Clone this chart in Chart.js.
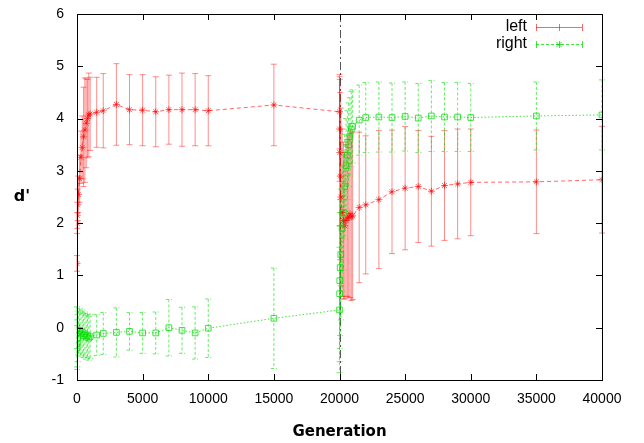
<!DOCTYPE html>
<html>
<head>
<meta charset="utf-8">
<script src="https://cdn.jsdelivr.net/npm/chart.js@4"></script>
<style>
  html, body { margin: 0; padding: 0; background: #fff; }
  #wrap { width: 644px; height: 443px; }
</style>
</head>
<body>
<div id="wrap"><canvas id="chart" width="644" height="443"></canvas></div>
<script>
// generations sampled (same for both series)
const generations = [
  0, 10, 20, 50, 100, 200, 300, 400, 500, 600, 700, 800, 900, 1000,
  1500, 2000, 3000, 4000, 5000, 6000, 7000, 8000, 9000, 10000, 15000,
  20000, 20010, 20020, 20050, 20100, 20200, 20300, 20400, 20500, 20600, 20700, 20800, 20900, 21000,
  21500, 22000, 23000, 24000, 25000, 26000, 27000, 28000, 29000, 30000, 35000, 40000
];
const leftMean = [
  1.23, 2.0, 2.15, 2.35, 2.55, 2.85, 3.26, 3.45, 3.65, 3.78, 3.91, 4.0, 4.07, 4.09,
  4.12, 4.15, 4.27, 4.17, 4.16, 4.13, 4.17, 4.17, 4.17, 4.15, 4.26,
  4.13, 3.8, 3.35, 2.9, 2.5, 2.2, 2.05, 1.95, 2.05, 2.1, 2.12, 2.18, 2.12, 2.14,
  2.3, 2.35, 2.45, 2.6, 2.67, 2.7, 2.61, 2.72, 2.75, 2.78, 2.79, 2.83
];
const leftErr = [
  0.15, 0.2, 0.25, 0.3, 0.35, 0.45, 0.5, 0.6, 0.95, 1.0, 0.85, 0.75, 0.8, 0.7,
  0.67, 0.71, 0.78, 0.67, 0.68, 0.67, 0.66, 0.7, 0.69, 0.67, 0.78,
  0.71, 1.0, 1.4, 1.6, 1.7, 1.6, 1.5, 1.4, 1.45, 1.5, 1.55, 1.6, 1.6, 1.6,
  1.44, 1.32, 1.32, 1.18, 1.18, 1.07, 1.05, 1.05, 1.05, 1.02, 0.99, 1.02
];
const rightMean = [
  0.0, -0.38, -0.3, -0.2, -0.1, -0.05, -0.12, -0.08, -0.15, -0.12, -0.18, -0.15, -0.2, -0.17,
  -0.14, -0.11, -0.09, -0.07, -0.1, -0.1, 0.0, -0.05, -0.1, -0.01, 0.18,
  0.34, 0.65, 0.9, 1.15, 1.4, 1.9, 2.2, 2.7, 3.1, 3.3, 3.5, 3.65, 3.8, 3.85,
  3.97, 4.02, 4.03, 4.02, 4.04, 4.01, 4.05, 4.03, 4.03, 4.02, 4.05, 4.07
];
const rightErr = [
  0.4, 0.42, 0.45, 0.45, 0.42, 0.42, 0.42, 0.42, 0.42, 0.42, 0.42, 0.42, 0.42, 0.42,
  0.39, 0.4, 0.47, 0.36, 0.39, 0.4, 0.54, 0.44, 0.5, 0.56, 0.96,
  1.2, 1.3, 1.3, 1.3, 1.25, 1.2, 1.1, 1.0, 0.9, 0.85, 0.8, 0.75, 0.72, 0.7,
  0.67, 0.67, 0.67, 0.66, 0.66, 0.66, 0.68, 0.66, 0.66, 0.65, 0.65, 0.67
];
const xTicks = [0, 5000, 10000, 15000, 20000, 25000, 30000, 35000, 40000];
const yTicks = [-1, 0, 1, 2, 3, 4, 5, 6];
const switchGen = 20000;

const RED = 'rgba(255,0,0,0.6)';
const RED_BAR = 'rgba(255,0,0,0.45)';
const GREEN = 'rgba(0,220,0,0.75)';
const GREEN_BAR = 'rgba(0,225,0,0.6)';

function drawErrorBars(ctx, xs, ys, means, errs, color, dash) {
  ctx.save();
  ctx.strokeStyle = color;
  ctx.lineWidth = 1;
  ctx.setLineDash(dash);
  generations.forEach((g, i) => {
    const px = xs.getPixelForValue(g);
    const top = ys.getPixelForValue(means[i] + errs[i]);
    const bot = ys.getPixelForValue(means[i] - errs[i]);
    ctx.beginPath();
    ctx.moveTo(px, top); ctx.lineTo(px, bot);
    ctx.moveTo(px - 3, top); ctx.lineTo(px + 3, top);
    ctx.moveTo(px - 3, bot); ctx.lineTo(px + 3, bot);
    ctx.stroke();
  });
  ctx.restore();
}

const framePlugin = {
  id: 'frame',
  beforeDatasetsDraw(chart) {
    const { ctx, chartArea: a, scales: { x, y } } = chart;
    const sx = Math.round(x.getPixelForValue(switchGen)) + 0.5;
    ctx.save();
    ctx.strokeStyle = '#555';
    ctx.lineWidth = 1;
    ctx.setLineDash([8, 3, 2, 3]);
    ctx.beginPath(); ctx.moveTo(sx, a.top); ctx.lineTo(sx, a.bottom); ctx.stroke();
    ctx.restore();
    drawErrorBars(ctx, x, y, leftMean, leftErr, RED_BAR, []);
    drawErrorBars(ctx, x, y, rightMean, rightErr, GREEN_BAR, [3, 2]);
  },
  afterDraw(chart) {
    const { ctx, chartArea: a, scales: { x, y } } = chart;
    ctx.save();
    ctx.strokeStyle = '#000';
    ctx.lineWidth = 1;
    ctx.strokeRect(a.left + 0.5, a.top + 0.5, a.right - a.left, a.bottom - a.top);
    ctx.beginPath();
    xTicks.forEach(v => {
      const px = Math.round(x.getPixelForValue(v)) + 0.5;
      ctx.moveTo(px, a.bottom); ctx.lineTo(px, a.bottom - 6);
      ctx.moveTo(px, a.top); ctx.lineTo(px, a.top + 6);
    });
    yTicks.forEach(v => {
      const py = Math.round(y.getPixelForValue(v)) + 0.5;
      ctx.moveTo(a.left, py); ctx.lineTo(a.left + 6, py);
      ctx.moveTo(a.right, py); ctx.lineTo(a.right - 6, py);
    });
    ctx.stroke();

    // y title (upright, as in the original)
    ctx.fillStyle = '#000';
    ctx.font = 'bold 16px "DejaVu Sans"';
    ctx.textAlign = 'center';
    ctx.textBaseline = 'middle';
    ctx.fillText("d'", 22, 197);

    // key
    ctx.font = '16px "Liberation Sans"';
    ctx.textAlign = 'right';
    ctx.fillText('left', 527, 27);
    ctx.fillText('right', 527, 44);
    const x0 = 536, x1 = 582, xm = 559;
    ctx.strokeStyle = RED;
    ctx.beginPath();
    ctx.moveTo(x0, 27.5); ctx.lineTo(x1, 27.5);
    [x0, xm, x1].forEach(p => { ctx.moveTo(p + 0.5, 24); ctx.lineTo(p + 0.5, 31); });
    ctx.stroke();
    ctx.strokeStyle = GREEN;
    ctx.setLineDash([3, 2]);
    ctx.beginPath();
    ctx.moveTo(x0, 44.5); ctx.lineTo(x1, 44.5);
    ctx.stroke();
    ctx.setLineDash([]);
    ctx.beginPath();
    [x0, x1].forEach(p => { ctx.moveTo(p + 0.5, 41); ctx.lineTo(p + 0.5, 48); });
    ctx.moveTo(xm - 3, 44.5); ctx.lineTo(xm + 3, 44.5);
    ctx.moveTo(xm + 0.5, 41); ctx.lineTo(xm + 0.5, 48);
    ctx.moveTo(xm - 2.5, 42); ctx.lineTo(xm + 2.5, 47);
    ctx.moveTo(xm + 2.5, 42); ctx.lineTo(xm - 2.5, 47);
    ctx.stroke();
    ctx.restore();
  }
};

new Chart(document.getElementById('chart'), {
  type: 'line',
  data: {
    datasets: [
      {
        label: 'right',
        data: generations.map((g, i) => ({ x: g, y: rightMean[i] })),
        borderColor: GREEN, borderWidth: 1, borderDash: [1.5, 2],
        pointStyle: 'rect', pointRadius: 4, pointBorderWidth: 1,
        pointBorderColor: GREEN, pointBackgroundColor: 'rgba(0,0,0,0)',
        tension: 0, order: 0
      },
      {
        label: 'left',
        data: generations.map((g, i) => ({ x: g, y: leftMean[i] })),
        borderColor: RED, borderWidth: 1, borderDash: [4, 3],
        pointStyle: 'star', pointRadius: 3.5, pointBorderWidth: 1,
        pointBorderColor: RED, pointBackgroundColor: RED,
        tension: 0, order: 1
      }
    ]
  },
  options: {
    responsive: false,
    animation: false,
    events: [],
    layout: { padding: { left: 0, right: 42, top: 14, bottom: 0 } },
    plugins: { legend: { display: false }, tooltip: { enabled: false } },
    scales: {
      x: {
        type: 'linear', min: 0, max: 40000,
        afterBuildTicks: s => { s.ticks = xTicks.map(v => ({ value: v })); },
        afterFit: s => { s.height = 63; },
        ticks: { color: '#000', font: { family: 'Liberation Sans', size: 14 }, padding: 3, maxRotation: 0,
                 callback: v => String(v) },
        grid: { display: false },
        border: { display: false },
        title: { display: true, text: 'Generation', color: '#000',
                 font: { family: 'DejaVu Sans', size: 15, weight: 'bold' }, padding: { top: 0, bottom: 2 } }
      },
      y: {
        type: 'linear', min: -1, max: 6,
        afterBuildTicks: s => { s.ticks = yTicks.map(v => ({ value: v })); },
        afterFit: s => { s.width = 77; },
        ticks: { color: '#000', font: { family: 'Liberation Sans', size: 14 }, padding: 5,
                 callback: v => String(v) },
        grid: { display: false },
        border: { display: false }
      }
    }
  },
  plugins: [framePlugin]
});
</script>
</body>
</html>
